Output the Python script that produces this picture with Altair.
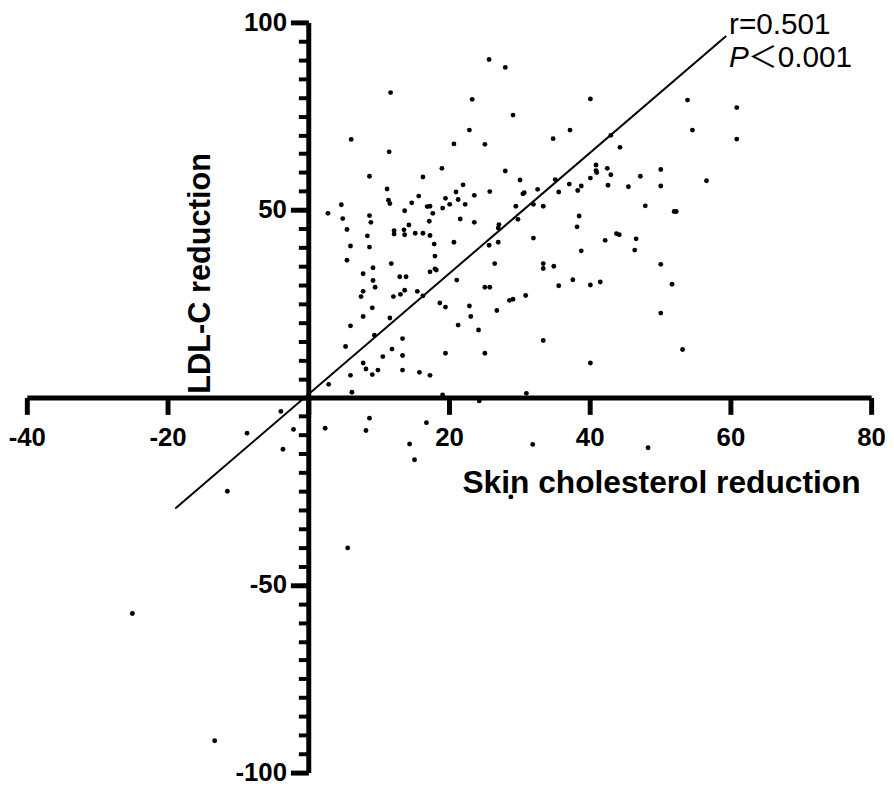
import altair as alt
import pandas as pd

# ---- data ----
skin = [25.7, 28.0, 11.7, 23.3, 40.1, 29.1, 22.9, 37.2, 6.1, 20.7, 25.1, 11.5, 34.8, 19.0, 28.0, 8.7, 16.3, 30.1, 35.1, 40.9,
        40.9, 41.0, 40.1, 38.8, 38.3, 37.1, 35.6, 32.6, 22.0, 21.0, 25.8, 11.2, 15.7, 19.5, 21.3, 23.6, 30.5, 11.4, 11.6, 4.7,
        14.7, 30.7,
        2.8, 4.9, 8.7, 8.9, 5.5, 8.4, 8.7, 6.0, 5.5, 9.2, 11.8, 7.8, 16.9, 17.3, 19.1, 20.1, 22.3, 13.7, 17.7, 17.2,
        21.6, 23.6, 14.3, 13.6, 12.2, 12.2, 13.7, 15.2, 16.3, 17.3, 17.9, 18.0, 17.3, 18.0, 18.2, 20.7, 27.1, 27.0, 29.5, 32.0,
        33.4, 29.8, 25.7, 27.0, 32.0, 26.5, 33.4, 33.4, 34.9, 38.5, 38.2, 38.8,
        9.2, 9.5, 7.8, 7.5, 13.0, 13.9, 13.7, 13.1, 12.1, 15.5, 16.3, 9.1, 7.8, 11.6, 6.0, 9.4, 5.3, 13.4, 11.9, 13.4,
        10.6, 7.8, 8.2, 9.9, 9.1, 13.4, 15.8, 17.3, 6.0, 2.9, 6.2, 21.1, 25.1, 25.8, 18.7, 19.5, 22.9, 23.1, 21.3, 24.2,
        26.8, 28.6, 29.1, 30.9, 35.6, 37.6, 40.1, 33.4, 19.5, 25.1, 40.1, 31.0, 19.1, 24.3,
        53.9, 54.6, 44.3, 43.0, 42.5, 43.0, 42.6, 45.5, 47.2, 50.1, 50.1, 47.9, 52.0, 52.3, 43.8, 44.2, 42.2, 46.6, 46.4, 50.1,
        41.5, 51.7, 50.1, 53.2, 60.9, 60.9, 56.6,
        -3.9, -2.1, -3.6, -8.7, -11.5, 2.4, 8.7, 8.2, 14.4, 15.1, 16.8, 31.9, 48.3, 28.8, 5.6, -25.0, -13.3]

ldl = [90.1, 88.0, 81.3, 79.5, 79.6, 75.3, 71.3, 71.3, 68.8, 67.6, 67.5, 65.5, 69.0, 61.1, 60.4, 59.0, 58.8, 58.0, 58.1, 62.0,
       60.5, 60.0, 58.5, 56.4, 55.2, 56.9, 54.8, 55.5, 56.7, 54.8, 54.9, 55.6, 53.7, 53.1, 52.8, 53.9, 54.3, 52.6, 51.7, 51.4,
       51.9, 54.6,
       49.1, 47.7, 48.5, 46.7, 44.8, 43.1, 40.1, 40.4, 36.6, 34.6, 35.7, 33.0, 50.9, 51.0, 50.5, 51.5, 51.5, 49.8, 49.1, 47.0,
       47.6, 46.7, 46.0, 44.7, 44.5, 43.6, 43.4, 43.8, 43.8, 43.2, 40.9, 37.7, 33.5, 34.3, 34.0, 41.4, 46.1, 45.2, 51.0, 51.5,
       51.0, 47.5, 40.6, 41.4, 42.5, 35.7, 35.7, 34.4, 35.0, 48.4, 45.5, 39.1,
       31.2, 29.4, 28.3, 26.9, 32.2, 32.2, 28.6, 27.5, 26.9, 28.3, 27.1, 23.9, 21.6, 21.2, 19.1, 16.6, 13.6, 15.7, 12.9, 11.2,
       10.9, 9.2, 7.6, 7.3, 6.1, 7.3, 6.7, 5.9, 5.9, 3.5, 1.4, 31.3, 29.4, 29.4, 25.2, 24.1, 24.4, 21.6, 19.3, 18.0,
       23.2, 25.9, 26.2, 27.2, 29.8, 31.4, 30.0, 15.2, 11.8, 11.8, 9.2, 1.1, 0.7, -0.9,
       79.3, 71.3, 66.7, 69.9, 61.1, 59.4, 56.6, 56.2, 59.0, 60.8, 56.4, 51.1, 49.6, 49.6, 43.7, 43.4, 41.9, 42.3, 39.3, 35.5,
       30.8, 30.2, 22.5, 12.8, 77.3, 68.9, 57.8,
       -3.7, -8.5, -13.8, -9.5, -25.0, -8.2, -5.5, -8.8, -12.4, -16.6, -6.7, -12.5, -13.4, -26.5, -40.1, -57.6, -91.5]

fit_x = [-18.9, 59.4]
fit_y = [-29.6, 96.4]

x_ticks = [-40, -20, 0, 20, 40, 60, 80]
y_major = [-100, -50, 50, 100]
y_minor = list(range(-100, 101, 5))

x_title = "Skin cholesterol reduction"
y_title = "LDL-C reduction"
r_text = "r=0.501"
p_text = "P"
p_rest = "＜0.001"

# ---- layout ----
W, H = 852, 757
FONT = "Liberation Sans, Arial, Noto Sans CJK SC"
LABEL_EXPR = "datum.value == 0 ? '' : toString(datum.value)"

xs = alt.Scale(domain=[-40, 80], nice=False, zero=False)
ys = alt.Scale(domain=[-100, 100], nice=False, zero=False)

x_axis = alt.Axis(values=x_ticks, orient="bottom", offset=-H / 2, domainWidth=5, domainColor="black",
                  tickWidth=5, tickColor="black", tickSize=17, labelFont=FONT, labelFontSize=26,
                  labelFontWeight="bold", labelColor="black", labelPadding=10,
                  labelExpr=LABEL_EXPR, labelFlush=False, labelOverlap=False,
                  title=None, grid=False)
y_axis_major = alt.Axis(values=y_major, orient="left", offset=-W / 3, domainWidth=5, domainColor="black",
                        tickWidth=5, tickColor="black", tickSize=18, labelFont=FONT, labelFontSize=26,
                        labelFontWeight="bold", labelColor="black", labelPadding=4, labelFlush=False,
                        labelExpr=LABEL_EXPR, labelOverlap=False, title=None, grid=False)
y_axis_minor = alt.Axis(values=y_minor, orient="left", offset=-W / 3, domain=False, tickWidth=4,
                        tickColor="black", tickSize=10, labels=False, title=None, grid=False)

df = pd.DataFrame({"skin": skin, "ldl": ldl})
df_fit = pd.DataFrame({"x": fit_x, "y": fit_y})

pts = alt.Chart(df).mark_circle(size=24, color="black", opacity=1).encode(
    x=alt.X("skin:Q", scale=xs, axis=x_axis),
    y=alt.Y("ldl:Q", scale=ys, axis=y_axis_major),
)

fit = alt.Chart(df_fit).mark_line(color="black", strokeWidth=2).encode(
    x=alt.X("x:Q", scale=xs, axis=x_axis),
    y=alt.Y("y:Q", scale=ys, axis=y_axis_minor),
)


def text_layer(label, x, y, **kw):
    d = pd.DataFrame({"x": [x], "y": [y], "t": [label]})
    return alt.Chart(d).mark_text(font=FONT, color="black", **kw).encode(
        x=alt.X("x:Q", scale=xs, axis=x_axis),
        y=alt.Y("y:Q", scale=ys, axis=None),
        text="t:N",
    )


t_x = text_layer(x_title, 50.2, -22.9, fontSize=32, fontWeight="bold", align="center", baseline="middle")
t_y = text_layer(y_title, -15.3, 33.1, fontSize=31, fontWeight="bold", align="center", baseline="middle", angle=270)
t_r = text_layer(r_text, 59.8, 96.9, fontSize=30, align="left", baseline="alphabetic")
t_p = text_layer(p_text, 59.8, 88.0, fontSize=30, fontStyle="italic", align="left", baseline="alphabetic")
t_p2 = text_layer(p_rest, 62.5, 88.0, fontSize=30, align="left", baseline="alphabetic")

chart = alt.layer(pts, fit, t_x, t_y, t_r, t_p, t_p2).resolve_axis(y="independent").properties(
    width=W, height=H,
    autosize=alt.AutoSizeParams(type="none"),
    padding={"left": 19, "top": 11, "right": 15, "bottom": 11},
    background="white",
).configure_view(stroke=None)

chart.save("out.html", embed_options={"renderer": "svg", "actions": False})
